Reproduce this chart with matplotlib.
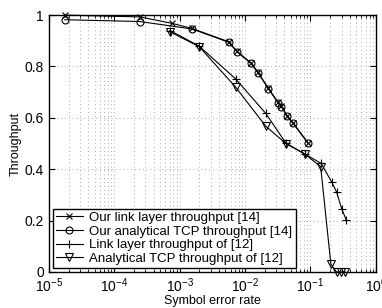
import numpy as np
import matplotlib.pyplot as plt
from matplotlib.ticker import LogLocator, NullFormatter, FixedLocator

plt.rcParams['font.family'] = ['Liberation Sans', 'DejaVu Sans']

# Our link layer throughput [14]
ser_link14 = [1.75e-5, 2.45e-4, 7.6e-4, 1.54e-3, 5.65e-3, 7.5e-3, 1.23e-2, 1.57e-2,
              2.26e-2, 3.2e-2, 3.6e-2, 4.4e-2, 5.4e-2, 9.1e-2]
thr_link14 = [1.0, 0.993, 0.968, 0.948, 0.896, 0.859, 0.814, 0.778,
              0.716, 0.66, 0.645, 0.608, 0.581, 0.504]

# Our analytical TCP throughput [14]
ser_tcp14 = [1.75e-5, 2.45e-4, 1.54e-3, 5.65e-3, 7.5e-3, 1.23e-2, 1.57e-2,
             2.26e-2, 3.2e-2, 3.6e-2, 4.4e-2, 5.4e-2, 9.1e-2]
thr_tcp14 = [0.982, 0.975, 0.946, 0.894, 0.857, 0.812, 0.776,
             0.714, 0.658, 0.643, 0.606, 0.579, 0.502]

# Link layer throughput of [12]
ser_link12 = [7.1e-4, 1.99e-3, 7.2e-3, 2.06e-2, 4.2e-2, 8.2e-2, 0.145, 0.21, 0.25, 0.30, 0.35]
thr_link12 = [0.94, 0.879, 0.751, 0.618, 0.502, 0.459, 0.423, 0.351, 0.312, 0.246, 0.204]

# Analytical TCP throughput of [12]
ser_tcp12 = [7.1e-4, 1.99e-3, 7.2e-3, 2.06e-2, 4.2e-2, 8.2e-2, 0.143, 0.205, 0.25, 0.29, 0.34]
thr_tcp12 = [0.935, 0.877, 0.719, 0.568, 0.5, 0.459, 0.41, 0.03, 0.0, 0.0, 0.0]

fig = plt.figure(figsize=(3.82, 3.08), dpi=100)
ax = fig.add_axes([0.128, 0.117, 0.856, 0.834])

kw = dict(color='black', linewidth=0.8, markerfacecolor='none', markeredgecolor='black',
          markeredgewidth=0.8, clip_on=False)
ax.plot(ser_link14, thr_link14, marker='x', markersize=4.5, label='Our link layer throughput [14]', **kw)
ax.plot(ser_tcp14, thr_tcp14, marker='o', markersize=5, label='Our analytical TCP throughput [14]', **kw)
ax.plot(ser_link12, thr_link12, marker='+', markersize=6, label='Link layer throughput of [12]', **kw)
ax.plot(ser_tcp12, thr_tcp12, marker='v', markersize=5.5, label='Analytical TCP throughput of [12]', **kw)

ax.set_xscale('log')
ax.set_xlim(1e-5, 1)
ax.set_ylim(0, 1)
ax.xaxis.set_major_locator(LogLocator(base=10, numticks=10))
ax.xaxis.set_minor_locator(LogLocator(base=10, subs=np.arange(2, 10), numticks=20))
ax.xaxis.set_minor_formatter(NullFormatter())
ax.yaxis.set_major_locator(FixedLocator([0, 0.2, 0.4, 0.6, 0.8, 1]))
ax.set_yticklabels(['0', '0.2', '0.4', '0.6', '0.8', '1'])

ax.grid(True, which='major', color='#aaaaaa', linestyle=(0, (1, 3)), linewidth=0.7)
ax.grid(True, which='minor', axis='x', color='#aaaaaa', linestyle=(0, (1, 3)), linewidth=0.7)

ax.tick_params(which='both', direction='in', top=True, right=True, labelsize=10)
ax.tick_params(axis='x', which='major', pad=3)
ax.tick_params(which='major', length=4)
ax.tick_params(which='minor', length=2)
for s in ax.spines.values():
    s.set_linewidth(1.0)

ax.set_xlabel('Symbol error rate', fontsize=9, labelpad=0)
ax.set_ylabel('Throughput', fontsize=9, labelpad=2)

leg = ax.legend(loc='lower left', fontsize=9.5, frameon=True, fancybox=False,
                edgecolor='black', framealpha=1, borderpad=0.25, labelspacing=0.1,
                handlelength=2.0, borderaxespad=0.3, handletextpad=0.5)
leg.get_frame().set_linewidth(1.0)

fig.savefig('out.png', dpi=100)
